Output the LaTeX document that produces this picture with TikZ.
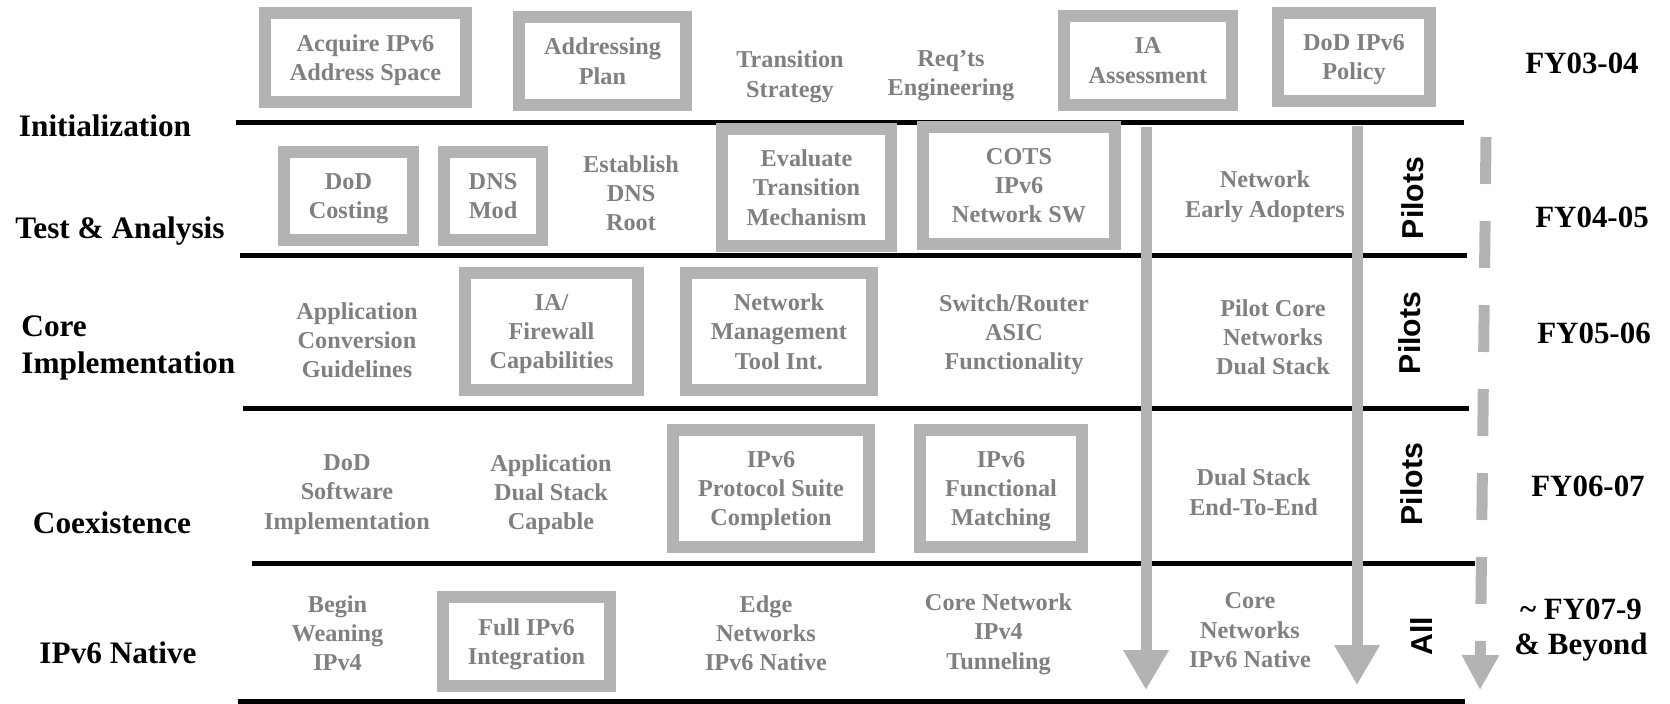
\documentclass[tikz,border=0pt]{standalone}
\usepackage{fontspec}
\setmainfont{Liberation Serif}
\newfontfamily\arialfont{Liberation Sans}
\usetikzlibrary{arrows.meta}
\definecolor{boxgray}{RGB}{179,179,179}
\definecolor{txtgray}{RGB}{128,128,128}

\begin{document}
\begin{tikzpicture}[x=0.1mm,y=-0.1mm,
    task/.style={text=txtgray,font=\fontsize{6.9}{8.3}\selectfont\bfseries,align=center,text depth=0pt},
    taskbox/.style={task,draw=boxgray,line width=1.2mm,inner sep=0pt},
    phase/.style={font=\fontsize{8.9}{10.7}\selectfont\bfseries},
    year/.style={font=\fontsize{8.8}{10}\selectfont\bfseries,align=center},
    pilot/.style={font=\arialfont\fontsize{8.6}{10}\selectfont\bfseries,rotate=90},
    sepline/.style={line width=0.5mm},
    flow/.style={boxgray,line width=1.1mm,-{Triangle[width=4.3mm,length=4mm]}}]
            \useasboundingbox (0,0) rectangle (1670,703);

            \draw[sepline] (236,122) -- (1464,122);
            \draw[sepline] (240,255) -- (1467,255);
            \draw[sepline] (243,408) -- (1469,408);
            \draw[sepline] (252,563) -- (1475,563);
            \draw[sepline] (238,701) -- (1465,701);

            \node[taskbox,minimum width=20.1mm,minimum height=8.9mm] (acquire) at (365.5,57.5) {Acquire IPv6\\Address Space};
            \node[taskbox,minimum width=16.7mm,minimum height=8.8mm] (addrplan) at (602.5,61) {Addressing\\Plan};
            \node[task] (strategy) at (790,74) {Transition\\Strategy};
            \node[task] (reqts) at (951,73) {Req’ts\\Engineering};
            \node[taskbox,minimum width=16.8mm,minimum height=8.9mm] (iaassess) at (1148,60.5) {IA\\Assessment};
            \node[taskbox,minimum width=15.2mm,minimum height=8.8mm] (policy) at (1354,57) {DoD IPv6\\Policy};
            \node[year] (fyone) at (1582,63) {FY03-04};
            \node[phase] (init) at (105,126) {Initialization};

            \node[taskbox,minimum width=12.9mm,minimum height=8.8mm] (costing) at (348.5,196) {DoD\\Costing};
            \node[taskbox,minimum width=9.85mm,minimum height=8.8mm] (dnsmod) at (493,196) {DNS\\Mod};
            \node[task] (dnsroot) at (631,193) {Establish\\DNS\\Root};
            \node[taskbox,minimum width=16.9mm,minimum height=11.7mm] (evaluate) at (806.5,187.5) {Evaluate\\Transition\\Mechanism};
            \node[taskbox,minimum width=19.2mm,minimum height=11.7mm] (cots) at (1019,185.5) {COTS\\IPv6\\Network SW};
            \node[task] (early) at (1265,194) {Network\\Early Adopters};
            \node[pilot] (pilotsone) at (1413,198) {Pilots};
            \node[year] (fytwo) at (1592,217) {FY04-05};
            \node[phase] (test) at (120,231) {Test \& Analysis};

            \node[task] (guidelines) at (357,340) {Application\\Conversion\\Guidelines};
            \node[taskbox,minimum width=17.3mm,minimum height=11.7mm] (firewall) at (551.5,331.5) {IA/\\Firewall\\Capabilities};
            \node[taskbox,minimum width=18.6mm,minimum height=11.7mm] (netmgmt) at (779,331.5) {Network\\Management\\Tool Int.};
            \node[task] (asic) at (1014,332) {Switch/Router\\ASIC\\Functionality};
            \node[task] (pilotcore) at (1273,337) {Pilot Core\\Networks\\Dual Stack};
            \node[pilot] (pilotstwo) at (1410,333) {Pilots};
            \node[year] (fythree) at (1594,333) {FY05-06};
            \node[phase,align=left,anchor=west] (core) at (9,348) {Core\\Implementation};

            \node[task] (software) at (347,492) {DoD\\Software\\Implementation};
            \node[task] (appdual) at (551,492) {Application\\Dual Stack\\Capable};
            \node[taskbox,minimum width=19.6mm,minimum height=11.7mm] (suite) at (771,488.5) {IPv6\\Protocol Suite\\Completion};
            \node[taskbox,minimum width=16.2mm,minimum height=11.7mm] (matching) at (1001,488.5) {IPv6\\Functional\\Matching};
            \node[task] (endtoend) at (1253.5,492) {Dual Stack\\End-To-End};
            \node[pilot] (pilotsthree) at (1412,484) {Pilots};
            \node[year] (fyfour) at (1588,486) {FY06-07};
            \node[phase] (coexist) at (112,523) {Coexistence};

            \node[task] (weaning) at (337.5,633) {Begin\\Weaning\\IPv4};
            \node[taskbox,minimum width=16.7mm,minimum height=8.9mm] (fullint) at (526.5,641.5) {Full IPv6\\Integration};
            \node[task] (edge) at (766,633) {Edge\\Networks\\IPv6 Native};
            \node[task] (tunnel) at (998.5,631.5) {Core Network\\IPv4\\Tunneling};
            \node[task] (corenative) at (1250,630) {Core\\Networks\\IPv6 Native};
            \node[pilot] (all) at (1422,636) {All};
            \node[year] (fyfive) at (1581,630) {\textasciitilde{} FY07-9\\\& Beyond};
            \node[phase] (native) at (118,653) {IPv6 Native};

            \coordinate (flowa) at (1146,127);
            \coordinate (flowaend) at (1146,690);
            \coordinate (flowb) at (1357,126);
            \coordinate (flowbend) at (1357,685);
            \coordinate (flowc) at (1486,137);
            \coordinate (flowcend) at (1480,690);

            \draw[flow] (flowa) -- (flowaend);
            \draw[flow] (flowb) -- (flowbend);
            \draw[flow,dash pattern=on 4.7mm off 3.7mm,-{Triangle[width=3.5mm,length=3.5mm]}] (flowc) -- (flowcend);
\end{tikzpicture}
\end{document}
